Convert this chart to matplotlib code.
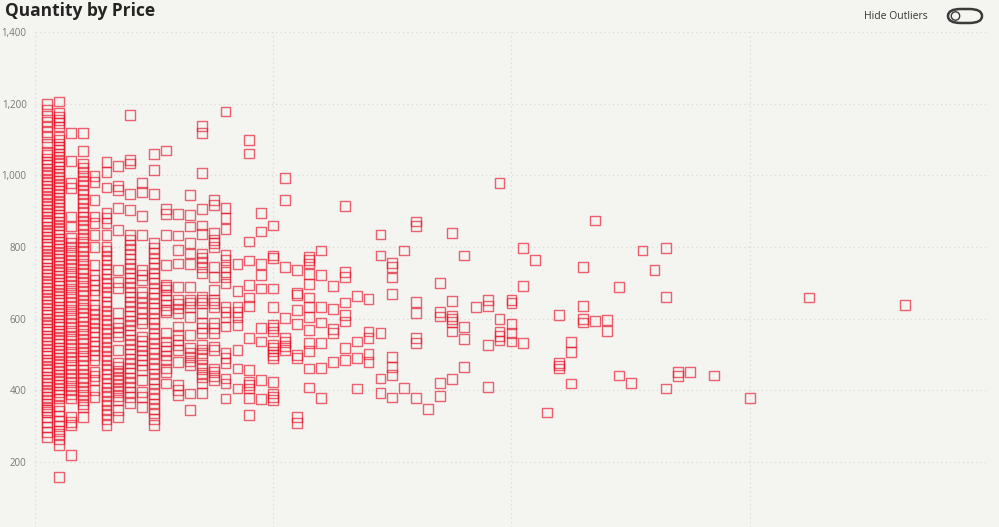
import numpy as np
import matplotlib.pyplot as plt
from matplotlib.patches import FancyBboxPatch, Circle

# price (x) and the quantities (y) observed at each price
prices = [1, 2, 3, 4, 5, 6, 7, 8, 9, 10,
          11, 12, 13, 14, 15, 16, 17, 18, 19, 20,
          21, 22, 23, 24, 25, 26, 27, 28, 29, 30,
          31, 32, 33, 34, 35, 36, 37, 38, 39, 40,
          41, 42, 43, 44, 45, 46, 47, 48, 49, 50,
          51, 52, 53, 54, 55, 57, 60, 65, 73]

quantities = [
    # 1
    [1199, 1182, 1165, 1150, 1136, 1122, 1108, 1089,
     1066, 1057, 1046, 1037, 1028, 1017, 1008, 999, 988, 979, 970, 961, 950, 941,
     932, 921, 912, 903, 894, 883, 874, 866, 855, 846, 837, 828, 817, 808, 799,
     790, 779, 770, 761, 752, 741, 732, 723, 714, 703, 694, 685, 676, 665, 656,
     647, 638, 627, 618, 609, 600, 589, 580, 571, 562, 551, 542, 533, 524, 513,
     504, 495, 486, 475, 466, 457, 448, 437, 428, 419, 410, 399, 390, 381, 372,
     361, 352, 344, 340, 326, 312, 297, 283, 270],
    # 2
    [1206, 1173, 1163, 1154, 1145, 1136,
     1108, 1099, 1088, 1079, 1070, 1061, 1050, 1041, 1032, 1023, 1012, 1003, 994,
     985, 974, 965, 956, 947, 936, 927, 918, 909, 898, 889, 880, 871, 860, 851,
     842, 833, 822, 813, 804, 795, 784, 775, 766, 757, 746, 737, 728, 719, 708,
     699, 690, 681, 670, 661, 652, 643, 632, 623, 614, 605, 594, 585, 576, 567,
     556, 547, 538, 529, 518, 509, 500, 491, 480, 471, 462, 453, 442, 433, 424,
     415, 404, 395, 386, 377, 356, 343, 329, 315, 301, 287, 278, 263, 247, 159],
    # 3
    [1117, 1040, 978, 965, 885, 857,
     824, 812, 801, 789, 778, 765, 753, 742, 730, 719, 706, 694, 683, 671, 660,
     647, 635, 624, 612, 601, 588, 576, 565, 553, 542, 529, 517, 506, 494, 483,
     470, 458, 447, 435, 424, 411, 400, 388, 377, 326, 312, 303, 219],
    # 4
    [1119, 1068, 1033, 1021, 1010, 997, 985, 972, 959, 948, 935, 923, 910, 898,
     885, 874, 861, 849, 836, 824, 813, 800, 788, 775, 763, 752, 739, 727, 714,
     702, 691, 678, 666, 653, 641, 630, 617, 605, 592, 580, 569, 556, 544, 531,
     519, 508, 495, 483, 470, 458, 447, 434, 422, 409, 397, 386, 373, 361, 354, 326],
    # 5
    [998, 982, 931, 885, 866, 833, 801, 750, 722, 708, 694, 680, 666,
     638, 625, 613, 600, 588, 575, 563, 550, 536, 524, 511, 498, 485,
     452, 440, 429, 401, 382],
    # 6
    [1038, 1010, 966, 894, 880, 866, 833,
     801, 788, 776, 763, 751, 738, 724, 712, 699, 687, 674, 662, 647, 635, 622,
     610, 597, 585, 572, 560, 546, 534, 521, 509, 496, 484, 471, 459, 446, 433,
     420, 408, 395, 383, 370, 358, 345, 333, 320, 303],
    # 7
    [1027, 971, 959, 908, 847, 736, 703, 685, 615, 587, 575, 562, 550, 512,
     475, 465, 455, 445, 435, 425, 415, 405, 395, 385, 373, 345, 326],
    # 8
    [1168, 1043, 1033, 948, 903,
     833, 820, 806, 794, 780, 767, 753, 741, 727, 714, 700, 688, 674, 661, 647,
     635, 621, 608, 594, 582, 568, 555, 541, 529, 515, 502, 488, 476, 462, 449,
     435, 423, 409, 396, 382, 364],
    # 9
    [978, 954, 887, 833, 736, 722, 708, 675, 660, 645, 630, 615, 600, 587, 550,
     537, 524, 511, 498, 485, 470, 457, 429, 396, 382, 354],
    # 10
    [1060, 1015, 948,
     810, 796, 783, 768, 755, 741, 726, 713, 699, 684, 671, 657, 642, 629, 615,
     600, 587, 573, 558, 545, 531, 516, 503, 489, 474, 461, 447, 432, 419, 405,
     390, 377, 363, 348, 335, 320, 303],
    # 11
    [1069, 906, 892, 833, 750, 694, 689, 680, 666, 652, 638, 625, 619, 559, 536,
     522, 510, 497, 485, 461, 452, 419],
    # 12
    [892, 832, 792, 754, 689, 652, 640, 628, 615, 578, 554, 540, 526, 512, 480,
     415, 401, 387],
    # 13
    [945, 889, 857, 810, 782, 752, 689, 652, 643, 633, 605, 554, 517, 505, 493,
     481, 470, 391, 345],
    # 14
    [1138, 1119, 1006, 906, 860, 836, 782, 770, 758, 745, 726, 661, 652, 643,
     615, 587, 573, 559, 526, 514, 503, 489, 471, 460, 449, 438, 419, 393],
    # 15
    [931, 917, 838, 819, 810, 801, 743, 717, 680, 652, 643, 633, 587, 573, 559,
     522, 512, 461, 450, 440, 429],
    # 16
    [1178, 908, 880, 849, 778, 764, 745, 731, 717, 698, 633, 619, 605, 578, 503,
     489, 475, 433, 419, 377],
    # 17
    [752, 677, 633, 619, 605, 582, 512, 461, 405],
    # 18
    [1099, 1061, 815, 762, 694, 659, 635, 545, 457, 424, 414, 405, 379, 331],
    # 19
    [894, 843, 752, 722, 684, 573, 536, 429, 376],
    # 20
    [860, 776, 770, 684, 633, 582, 573, 564, 526, 517, 508, 498, 489, 424, 391,
     382, 373],
    # 21
    [992, 931, 743, 601, 545, 534, 523, 512],
    # 22
    [736, 672, 666, 624, 585, 498, 489, 326, 308],
    # 23
    [773, 763, 754, 725, 697, 659, 633, 605, 568, 531, 510, 461, 408],
    # 24
    [790, 722, 633, 589, 531, 463, 379],
    # 25
    [692, 626, 570, 559, 478],
    # 26
    [915, 731, 717, 645, 610, 592, 519, 484],
    # 27
    [664, 536, 489, 405],
    # 28
    [655, 564, 545, 501, 480],
    # 29
    [835, 776, 559, 433, 393],
    # 30
    [756, 745, 715, 669, 492, 466, 443, 380],
    # 31
    [790, 406],
    # 32
    [871, 859, 647, 615, 545, 531, 378],
    # 33
    [347],
    # 34
    [699, 619, 606, 421, 384],
    # 35
    [838, 649, 608, 599, 590, 564, 432],
    # 36
    [776, 576, 544, 465],
    # 37
    [633],
    # 38
    [652, 636, 526, 410],
    # 39
    [978, 599, 564, 552, 539],
    # 40
    [652, 643, 585, 561, 536],
    # 41
    [796, 691, 533],
    # 42
    [763],
    # 43
    [338],
    # 44
    [611, 477, 469, 461],
    # 45
    [534, 506, 419],
    # 46
    [745, 635, 599, 589],
    # 47
    [874, 593],
    # 48
    [596, 565],
    # 49
    [689, 441],
    # 50
    [421],
    # 51
    [790],
    # 52
    [736],
    # 53
    [797, 660, 405],
    # 54
    [452, 440],
    # 55
    [450],
    # 57
    [441],
    # 60
    [379],
    # 65
    [659],
    # 73
    [637],
]

y_ticks = [200, 400, 600, 800, 1000, 1200, 1400]
y_labels = ['200', '400', '600', '800', '1,000', '1,200', '1,400']

x = []
y = []
for p, qs in zip(prices, quantities):
    for q in qs:
        x.append(p)
        y.append(q)

bg = '#f4f4f1'
fig = plt.figure(figsize=(9.99, 5.27), dpi=100)
fig.patch.set_facecolor(bg)

ax = fig.add_axes([0.035, 0.0, 0.954, 0.9393])
ax.set_facecolor(bg)
ax.scatter(x, y, marker='s', s=50, facecolors='none',
           edgecolors=(0.91, 0.07, 0.15, 0.65), linewidths=1.0)

ax.set_xlim(0, 80)
ax.set_ylim(18.4, 1400)
ax.set_xticks([0, 20, 40, 60, 80])
ax.set_xticklabels([])
ax.set_yticks(y_ticks)
ax.set_yticklabels(y_labels, fontsize=7, color='#777777', family='Open Sans')
ax.tick_params(axis='both', length=0, pad=6)
ax.grid(True, color='#d9d9d6', linestyle=(0, (1, 2.5)), linewidth=0.9)
ax.set_axisbelow(True)
for s in ax.spines.values():
    s.set_visible(False)

fig.text(0.005, 0.979, 'Quantity by Price', fontsize=12.5, fontweight='bold',
         family='Open Sans', color='#252423', va='center', ha='left')
fig.text(0.929, 0.969, 'Hide Outliers', fontsize=7.5, family='Open Sans',
         color='#333333', va='center', ha='right')

# toggle switch
W, H = 999.0, 527.0
toggle = FancyBboxPatch((948 / W, (H - 23) / H), 34 / W, 14 / H,
                        boxstyle='round,pad=0,rounding_size=0.013',
                        transform=fig.transFigure, facecolor='none',
                        edgecolor='#3b3a39', linewidth=1.8)
fig.patches.append(toggle)
knob = Circle((955.5 / 100, (H - 16) / 100), 0.042,
              transform=fig.dpi_scale_trans, facecolor='none',
              edgecolor='#3b3a39', linewidth=1.0)
fig.patches.append(knob)

fig.savefig('out.png', dpi=100, facecolor=bg)
